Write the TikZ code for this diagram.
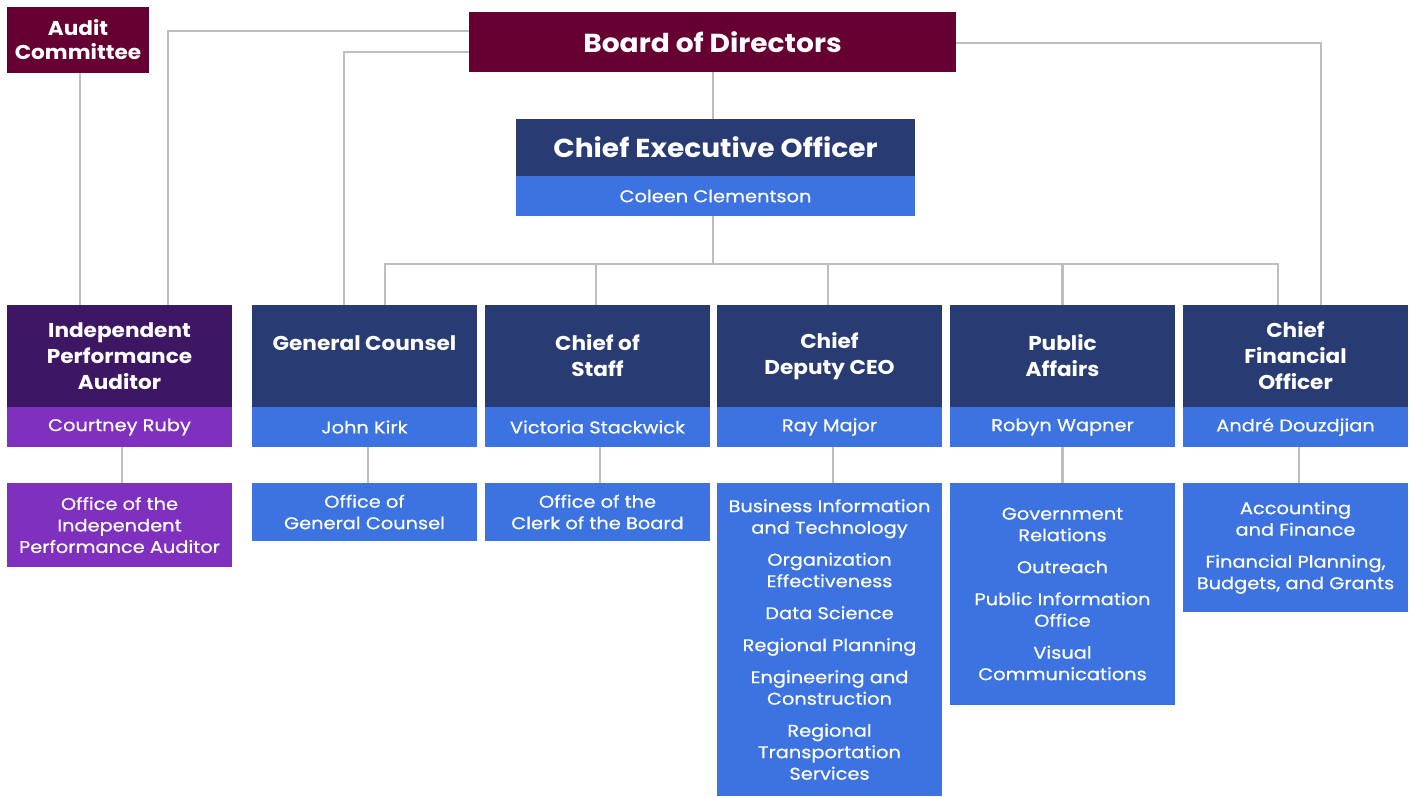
\documentclass[tikz,border=0pt]{standalone}
\usepackage{fontspec}
\setmainfont{Poppins}[FakeStretch=1.08]
\newfontfamily\regf{Poppins}[FakeStretch=1.14, FakeBold=0.5]
\usetikzlibrary{backgrounds}
\definecolor{cmaroon}{RGB}{102,0,51}
\definecolor{cnavy}{RGB}{40,60,115}
\definecolor{cblue}{RGB}{60,115,225}
\definecolor{cdpurple}{RGB}{62,23,100}
\definecolor{cpurple}{RGB}{128,48,190}
\definecolor{cline}{RGB}{190,190,190}
\begin{document}
\begin{tikzpicture}[x=1pt,y=-1pt,
  base/.style={inner sep=0pt, outer sep=0pt, align=center, text=white},
  titlebox/.style={base, minimum width=225pt, minimum height=102pt, fill=cnavy,
    font=\fontsize{20}{26}\selectfont\bfseries},
  namebox/.style={base, minimum width=225pt, minimum height=40pt, fill=cblue,
    font=\regf\fontsize{17}{21}\selectfont},
  officebox/.style={base, minimum width=225pt, fill=cblue,
    font=\regf\fontsize{17}{21.5}\selectfont},
  conn/.style={draw=cline, line width=2.6pt}]
\useasboundingbox (0,0) rectangle (1414,797);
% top
\node[base, fill=cmaroon, minimum width=142pt, minimum height=66pt,
  font=\fontsize{20}{24}\selectfont\bfseries] (audit) at (78,40) {Audit\\Committee};
\node[base, fill=cmaroon, minimum width=487pt, minimum height=60pt,
  font=\fontsize{26}{30}\selectfont\bfseries] (board) at (712.5,42) {Board of Directors};
\node[base, fill=cnavy, minimum width=399pt, minimum height=57pt,
  font=\fontsize{26}{30}\selectfont\bfseries] (ceo) at (715.5,147.5) {Chief Executive Officer};
\node[base, fill=cblue, minimum width=399pt, minimum height=40pt,
  font=\regf\fontsize{17}{21}\selectfont] (ceon) at (715.5,196) {Coleen Clementson};
% row titles
\node[titlebox, fill=cdpurple] (ipa) at (119.5,356) {Independent\\Performance\\Auditor};
\node[titlebox] (gc) at (364.5,356) {General Counsel\\~};
\node[titlebox] (cos) at (597.5,356) {Chief of\\Staff};
\node[titlebox] (cd) at (829.5,356) {Chief\\Deputy CEO};
\node[titlebox] (pa) at (1062.5,356) {Public\\Affairs};
\node[titlebox] (cfo) at (1295.5,356) {Chief\\Financial\\Officer};
% names
\node[namebox, fill=cpurple] (ipan) at (119.5,427) {Courtney Ruby};
\node[namebox] (gcn) at (364.5,427) {John Kirk};
\node[namebox] (cosn) at (597.5,427) {Victoria Stackwick};
\node[namebox] (cdn) at (829.5,427) {Ray Major};
\node[namebox] (pan) at (1062.5,427) {Robyn Wapner};
\node[namebox] (cfon) at (1295.5,427) {André Douzdjian};
% offices
\node[officebox, fill=cpurple, minimum height=84pt] (ipao) at (119.5,525)
  {Office of the\\Independent\\Performance Auditor};
\node[officebox, minimum height=58pt] (gco) at (364.5,512) {Office of\\General Counsel};
\node[officebox, minimum height=58pt] (coso) at (597.5,512) {Office of the\\Clerk of the Board};
\node[officebox, minimum height=313pt] (cdo) at (829.5,639.5)
  {Business Information\\and Technology\\[10.5pt]Organization\\Effectiveness\\[10.5pt]Data Science\\[10.5pt]Regional Planning\\[10.5pt]Engineering and\\Construction\\[10.5pt]Regional\\Transportation\\Services};
\node[officebox, minimum height=222pt] (pao) at (1062.5,594)
  {Government\\Relations\\[10.5pt]Outreach\\[10.5pt]Public Information\\Office\\[10.5pt]Visual\\Communications};
\node[officebox, minimum height=129pt] (cfoo) at (1295.5,547.5)
  {Accounting\\and Finance\\[10.5pt]Financial Planning,\\Budgets, and Grants};
% connectors
\begin{scope}[on background layer]
\coordinate (bus) at (713,264);
\draw[conn] (board.south -| bus) -- (ceo.north -| bus);
\draw[conn] (ceon.south -| bus) -- (bus);
\draw[conn] ([xshift=20.5pt]gc.north) |- (bus) -| ([xshift=-17.5pt]cfo.north);
\draw[conn] ([xshift=-1.5pt]cos.north) -- ([xshift=-1.5pt]cos.north |- bus);
\draw[conn] ([xshift=-1.5pt]cd.north) -- ([xshift=-1.5pt]cd.north |- bus);
\draw[conn] (pa.north) -- (pa.north |- bus);
\draw[conn] ([yshift=11pt]board.west) -| ([xshift=48.5pt]ipa.north);
\draw[conn] ([yshift=-10pt]board.west) -| ([xshift=-20.5pt]gc.north);
\draw[conn] ([yshift=-1pt]board.east) -| ([xshift=25.5pt]cfo.north);
\draw[conn] ([xshift=2pt]audit.south) -- ([xshift=2pt]audit.south |- ipa.north);
\draw[conn] ([xshift=2.5pt]ipan.south) -- ([xshift=2.5pt]ipao.north);
\draw[conn] ([xshift=3.5pt]gcn.south) -- ([xshift=3.5pt]gco.north);
\draw[conn] ([xshift=2.5pt]cosn.south) -- ([xshift=2.5pt]coso.north);
\draw[conn] ([xshift=3.5pt]cdn.south) -- ([xshift=3.5pt]cdo.north);
\draw[conn] (pan.south) -- (pao.north);
\draw[conn] ([xshift=3.5pt]cfon.south) -- ([xshift=3.5pt]cfoo.north);
\end{scope}
\end{tikzpicture}
\end{document}
